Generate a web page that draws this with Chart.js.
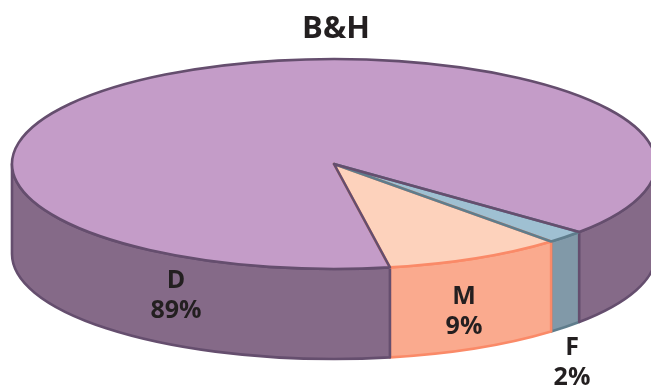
<!DOCTYPE html>
<html>
<head>
<meta charset="utf-8">
<title>B&amp;H</title>
<script src="https://cdn.jsdelivr.net/npm/chart.js@4/dist/chart.umd.min.js"></script>
<style>
    html, body { margin: 0; padding: 0; background: #fff; }
    #wrap { width: 651px; height: 387px; }
</style>
</head>
<body>
<div id="wrap"><canvas id="chart"></canvas></div>
<script>
var categories = ['D', 'F', 'M'];
var values = [89, 2, 9];

var topColors = ['#c49cc8', '#9fc0d2', '#fdd2bc'];
var wallColors = ['#856a88', '#8199a8', '#faaa8e'];
var edgeColors = ['#654e6e', '#5f7d8c', '#fa8a68'];

// pixel spot for the two-line label of each slice
var labelSpots = [[176, 281], [572, 348], [464, 297]];

var TEXT = '#231f20';
var FONT = '"Open Sans", sans-serif';

// squashes the flat pie into an ellipse and extrudes it downwards
var tiltedPie = {
    id: 'tiltedPie',
    beforeDatasetsDraw: function (chart, args, opts) {
        var ctx = chart.ctx;
        var arcs = chart.getDatasetMeta(0).data;

        function wall(i, from, to) {
            ctx.beginPath();
            ctx.ellipse(opts.cx, opts.cy, opts.rx, opts.ry, 0, from, to);
            ctx.ellipse(opts.cx, opts.cy + opts.depth, opts.rx, opts.ry, 0, to, from, true);
            ctx.closePath();
            ctx.fillStyle = wallColors[i];
            ctx.fill();
            ctx.strokeStyle = edgeColors[i];
            ctx.lineWidth = opts.edge;
            ctx.lineJoin = 'round';
            ctx.stroke();
        }

        // only the front half of the rim shows, back to front by slice
        [1, 2, 0].forEach(function (i) {
            var a = arcs[i].startAngle;
            var b = arcs[i].endAngle;
            var turn = Math.PI * 2;
            while (a >= turn) { a -= turn; b -= turn; }
            while (a < 0) { a += turn; b += turn; }
            if (a < Math.PI) wall(i, a, Math.min(b, Math.PI));
            if (b > turn) wall(i, turn, Math.min(b, turn + Math.PI));
        });

        var el = arcs[0];
        ctx.save();
        ctx.translate(opts.cx, opts.cy);
        ctx.scale(opts.rx / el.outerRadius, opts.ry / el.outerRadius);
        ctx.translate(-el.x, -el.y);
    },
    afterDatasetsDraw: function (chart, args, opts) {
        var ctx = chart.ctx;
        var arcs = chart.getDatasetMeta(0).data;
        ctx.restore();

        // outlines go on after the squash so the line width stays even
        [2, 1, 0].forEach(function (i) {
            ctx.beginPath();
            ctx.moveTo(opts.cx, opts.cy);
            ctx.ellipse(opts.cx, opts.cy, opts.rx, opts.ry, 0, arcs[i].startAngle, arcs[i].endAngle);
            ctx.closePath();
            ctx.strokeStyle = edgeColors[i];
            ctx.lineWidth = opts.edge;
            ctx.lineJoin = 'round';
            ctx.stroke();
        });

        ctx.fillStyle = TEXT;
        ctx.font = 'bold 25px ' + FONT;
        ctx.textAlign = 'center';
        ctx.textBaseline = 'middle';
        categories.forEach(function (name, i) {
            ctx.fillText(name, labelSpots[i][0], labelSpots[i][1]);
            ctx.fillText(values[i] + '%', labelSpots[i][0], labelSpots[i][1] + 30);
        });
    }
};

new Chart('chart', {
    type: 'pie',
    data: {
        labels: categories,
        datasets: [{
            data: values,
            backgroundColor: topColors,
            borderWidth: 0,
            clip: false
        }]
    },
    options: {
        responsive: true,
        maintainAspectRatio: false,
        animation: false,
        rotation: 170,
        layout: { padding: { left: 21 } },
        plugins: {
            legend: { display: false },
            tooltip: { enabled: false },
            title: {
                display: true,
                text: 'B&H',
                color: TEXT,
                font: { family: FONT, size: 31, weight: 'bold' },
                padding: { top: 11, bottom: 10 }
            },
            tiltedPie: { cx: 334, cy: 164, rx: 322, ry: 105, depth: 90, edge: 2.6 }
        }
    },
    plugins: [tiltedPie]
});
</script>
</body>
</html>
